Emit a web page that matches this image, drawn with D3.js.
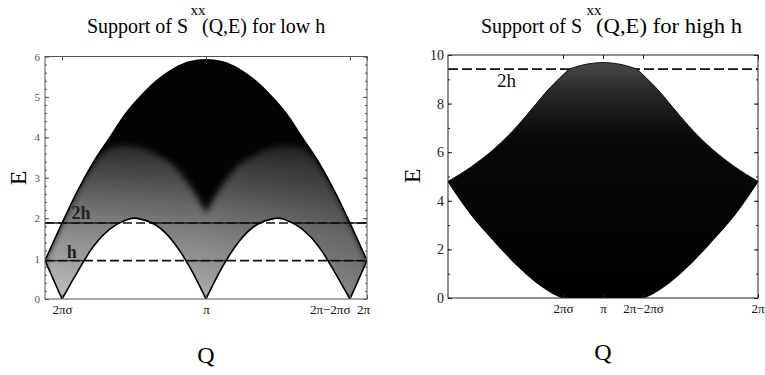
<!DOCTYPE html>
<html>
<head>
<meta charset="utf-8">
<script src="https://d3js.org/d3.v7.min.js"></script>
<style>
  body { margin: 0; background: #fff; }
  svg { display: block; font-family: "Liberation Serif", "DejaVu Serif", serif; }
</style>
</head>
<body>
<div id="chart"></div>
<script>
// Q is given in units of pi, E in the plot's energy units

// low h panel
const lowUpperQ = [0, 0.106, 0.2, 0.3, 0.4, 0.5, 0.6, 0.7, 0.8, 0.9, 1.0, 1.1, 1.2, 1.3, 1.4, 1.5, 1.6, 1.7, 1.8, 1.894, 2.0];
const lowUpperE = [0.95, 1.88, 2.66, 3.38, 3.98, 4.58, 5.04, 5.42, 5.7, 5.87, 5.92, 5.87, 5.7, 5.42, 5.04, 4.58, 3.98, 3.38, 2.66, 1.88, 0.95];

const lowMidQa = [0, 0.106, 0.2, 0.3, 0.35, 0.4, 0.5, 0.6, 0.7, 0.8, 0.9, 1.0];
const lowMidEa = [0.95, 1.88, 2.64, 3.34, 3.58, 3.74, 3.8, 3.74, 3.55, 3.3, 2.8, 2.12];
const lowMidQb = [1.0, 1.1, 1.2, 1.3, 1.4, 1.5, 1.6, 1.65, 1.7, 1.8, 1.894, 2.0];
const lowMidEb = [2.12, 2.8, 3.3, 3.55, 3.74, 3.8, 3.74, 3.58, 3.34, 2.64, 1.88, 0.95];

const lowLowerQ1 = [0, 0.106];
const lowLowerE1 = [0.95, 0];
const lowLowerQ2 = [0.106, 0.2, 0.3, 0.4, 0.5, 0.553, 0.6, 0.7, 0.8, 0.9, 1.0];
const lowLowerE2 = [0, 0.66, 1.3, 1.72, 1.95, 2.0, 1.97, 1.8, 1.4, 0.78, 0];
const lowLowerQ3 = [1.0, 1.1, 1.2, 1.3, 1.4, 1.447, 1.5, 1.6, 1.7, 1.8, 1.894];
const lowLowerE3 = [0, 0.78, 1.4, 1.8, 1.97, 2.0, 1.95, 1.72, 1.3, 0.66, 0];
const lowLowerQ4 = [1.894, 2.0];
const lowLowerE4 = [0, 0.95];

const lowLevels = [0.95, 1.88];
const lowLevelLabels = ["h", "2h"];
const lowYTicks = [0, 1, 2, 3, 4, 5, 6];
const lowXTicks = [0.106, 1, 1.894, 2];
const lowXLabels = ["2πσ", "π", "2π−2πσ", "2π"];

// high h panel
const highUpperQ1 = [0, 0.15, 0.3, 0.45, 0.55, 0.65, 0.72, 0.78];
const highUpperE1 = [4.8, 5.4, 6.15, 7.1, 7.85, 8.6, 9.05, 9.42];
const highUpperQ2 = [0.78, 0.9, 1.0, 1.1, 1.22];
const highUpperE2 = [9.42, 9.63, 9.69, 9.63, 9.42];
const highUpperQ3 = [1.22, 1.28, 1.35, 1.45, 1.55, 1.7, 1.85, 2.0];
const highUpperE3 = [9.42, 9.05, 8.6, 7.85, 7.1, 6.15, 5.4, 4.8];

const highLowerQ1 = [0, 0.15, 0.3, 0.45, 0.6, 0.68, 0.742];
const highLowerE1 = [4.8, 3.43, 2.33, 1.32, 0.5, 0.18, 0];
const highLowerQ2 = [1.258, 1.32, 1.4, 1.55, 1.7, 1.85, 2.0];
const highLowerE2 = [0, 0.18, 0.5, 1.32, 2.33, 3.43, 4.8];

const highLevels = [9.42];
const highLevelLabels = ["2h"];
const highYTicks = [0, 2, 4, 6, 8, 10];
const highXTicks = [0.742, 1, 1.258, 2];
const highXLabels = ["2πσ", "π", "2π−2πσ", "2π"];

const zip = (qs, es) => qs.map((q, i) => ({ q: q, e: es[i] }));
const serif = '"Liberation Serif", "DejaVu Serif", serif';

const width = 765;
const height = 375;

const svg = d3.select("#chart")
  .append("svg")
  .attr("width", width)
  .attr("height", height);
const defs = svg.append("defs");

function addTitle(endS, supX, startRest, rest, restLen) {
  svg.append("text")
    .attr("x", endS).attr("y", 33)
    .attr("text-anchor", "end")
    .attr("font-size", "20px")
    .text("Support of S");
  svg.append("text")
    .attr("x", supX).attr("y", 15)
    .attr("text-anchor", "middle")
    .attr("font-size", "15px")
    .text("xx");
  const t = svg.append("text")
    .attr("x", startRest).attr("y", 33)
    .attr("text-anchor", "start")
    .attr("font-size", "20px")
    .text(rest);
  if (restLen) t.attr("textLength", restLen).attr("lengthAdjust", "spacingAndGlyphs");
}

function addAxes(g, x, y, opts) {
  const [x0, x1] = x.range();
  const [y0, y1] = y.range();

  // minor ticks
  g.append("g")
    .attr("transform", `translate(${x0},0)`)
    .call(d3.axisLeft(y).tickValues(opts.minor).tickSizeInner(-2).tickSizeOuter(0).tickFormat(""))
    .call(a => a.select(".domain").remove());
  g.append("g")
    .attr("transform", `translate(${x1},0)`)
    .call(d3.axisRight(y).tickValues(opts.minor).tickSizeInner(-2).tickSizeOuter(0).tickFormat(""))
    .call(a => a.select(".domain").remove());

  const yAxis = g.append("g")
    .attr("transform", `translate(${x0},0)`)
    .call(d3.axisLeft(y).tickValues(opts.yTicks).tickSizeInner(-4).tickSizeOuter(0)
      .tickPadding(opts.yPad).tickFormat(d3.format("d")));
  yAxis.attr("font-family", serif).attr("font-size", opts.yFont);
  yAxis.select(".domain").remove();
  yAxis.selectAll("text").attr("fill", opts.yColor);

  g.append("g")
    .attr("transform", `translate(${x1},0)`)
    .call(d3.axisRight(y).tickValues(opts.yTicks).tickSizeInner(-4).tickSizeOuter(0).tickFormat(""))
    .call(a => a.select(".domain").remove());

  const xAxis = g.append("g")
    .attr("transform", `translate(0,${y0})`)
    .call(d3.axisBottom(x).tickValues(opts.xTicks).tickSizeInner(-4).tickSizeOuter(0).tickPadding(6)
      .tickFormat((d, i) => opts.xLabels[i]));
  xAxis.attr("font-family", serif).attr("font-size", "13px");
  xAxis.select(".domain").remove();
  xAxis.selectAll("text")
    .attr("fill", "#111")
    .attr("text-anchor", (d, i) => opts.xAnchor[i])
    .attr("dx", (d, i) => opts.xDx[i]);

  g.append("g")
    .attr("transform", `translate(0,${y1})`)
    .call(d3.axisTop(x).tickValues(opts.xTicks).tickSizeInner(-4).tickSizeOuter(0).tickFormat(""))
    .call(a => a.select(".domain").remove());

  g.selectAll(".tick line").attr("stroke", opts.frame);

  g.append("rect")
    .attr("x", x0).attr("y", y1)
    .attr("width", x1 - x0).attr("height", y0 - y1)
    .attr("fill", "none")
    .attr("stroke", opts.frame)
    .attr("stroke-width", 1);
}

function drawLow() {
  const x = d3.scaleLinear().domain([0, 2]).range([45, 367]);
  const y = d3.scaleLinear().domain([0, 6]).range([299, 56.5]);
  const g = svg.append("g");

  defs.append("clipPath").attr("id", "clipLow")
    .append("rect")
    .attr("x", 45).attr("y", 56.5).attr("width", 322).attr("height", 242.5);

  const under = d3.area()
    .x(d => x(d.q)).y0(y(0)).y1(d => y(d.e))
    .curve(d3.curveMonotoneX);
  const line = d3.line()
    .x(d => x(d.q)).y(d => y(d.e))
    .curve(d3.curveMonotoneX);

  const upper = zip(lowUpperQ, lowUpperE);
  defs.append("clipPath").attr("id", "clipUpperLow")
    .append("path").attr("d", under(upper));

  const grad = defs.append("linearGradient").attr("id", "grayLow")
    .attr("gradientUnits", "userSpaceOnUse")
    .attr("x1", 0).attr("x2", 0).attr("y1", y(0)).attr("y2", y(3.8));
  grad.append("stop").attr("offset", 0).attr("stop-color", "#c2c2c2");
  grad.append("stop").attr("offset", 0.45).attr("stop-color", "#8a8a8a");
  grad.append("stop").attr("offset", 0.8).attr("stop-color", "#505050");
  grad.append("stop").attr("offset", 1).attr("stop-color", "#2a2a2a");

  const shade = defs.append("linearGradient").attr("id", "shadeLow")
    .attr("gradientUnits", "userSpaceOnUse")
    .attr("x1", x(0)).attr("x2", x(2)).attr("y1", 0).attr("y2", 0);
  shade.append("stop").attr("offset", 0).attr("stop-color", "#000").attr("stop-opacity", 0);
  shade.append("stop").attr("offset", 0.5).attr("stop-color", "#000").attr("stop-opacity", 0.1);
  shade.append("stop").attr("offset", 1).attr("stop-color", "#000").attr("stop-opacity", 0.32);

  const blur = defs.append("filter").attr("id", "soft")
    .attr("x", "-10%").attr("y", "-10%").attr("width", "120%").attr("height", "120%");
  blur.append("feGaussianBlur").attr("stdDeviation", 3);

  const plot = g.append("g").attr("clip-path", "url(#clipLow)");

  plot.append("path").attr("d", under(upper)).attr("fill", "#030303");

  const mids = [zip(lowMidQa, lowMidEa), zip(lowMidQb, lowMidEb)];
  const grayG = plot.append("g").attr("clip-path", "url(#clipUpperLow)")
    .append("g").attr("filter", "url(#soft)");
  grayG.selectAll("path.gray").data(mids).join("path")
    .attr("class", "gray").attr("d", under).attr("fill", "url(#grayLow)");
  grayG.selectAll("path.shade").data(mids).join("path")
    .attr("class", "shade").attr("d", under).attr("fill", "url(#shadeLow)");

  // lines read solid where they pass through the shading
  plot.selectAll("line.solid").data(lowLevels).join("line")
    .attr("class", "solid")
    .attr("x1", x(0)).attr("x2", x(2))
    .attr("y1", d => y(d)).attr("y2", d => y(d))
    .attr("stroke", "#1a1a1a").attr("stroke-width", 1.4);

  const lowers = [
    zip(lowLowerQ1, lowLowerE1), zip(lowLowerQ2, lowLowerE2),
    zip(lowLowerQ3, lowLowerE3), zip(lowLowerQ4, lowLowerE4)
  ];
  plot.selectAll("path.hole").data(lowers).join("path")
    .attr("class", "hole").attr("d", under).attr("fill", "#fff");

  plot.selectAll("line.dash").data(lowLevels).join("line")
    .attr("class", "dash")
    .attr("x1", x(0)).attr("x2", x(2))
    .attr("y1", d => y(d)).attr("y2", d => y(d))
    .attr("stroke", "#111").attr("stroke-width", 1.6)
    .attr("stroke-dasharray", "9,4");

  plot.append("path").attr("d", line(upper))
    .attr("fill", "none").attr("stroke", "#000").attr("stroke-width", 1.6);
  plot.selectAll("path.lower").data(lowers).join("path")
    .attr("class", "lower").attr("d", line)
    .attr("fill", "none").attr("stroke", "#000").attr("stroke-width", 1.6);

  g.selectAll("text.level").data(lowLevels).join("text")
    .attr("class", "level")
    .attr("x", (d, i) => i === 1 ? x(0.165) : x(0.135))
    .attr("y", (d, i) => y(d) - (i === 1 ? 4 : 3))
    .attr("font-size", "18px")
    .attr("font-weight", "bold")
    .attr("fill", "#222")
    .text((d, i) => lowLevelLabels[i]);

  addAxes(g, x, y, {
    yTicks: lowYTicks,
    minor: d3.range(0, 6.001, 0.2),
    yPad: 5, yFont: "11px", yColor: "#555",
    xTicks: lowXTicks, xLabels: lowXLabels,
    xAnchor: ["middle", "middle", "end", "middle"],
    xDx: [0, 0, 0, -4],
    frame: "#555"
  });

  g.append("text")
    .attr("transform", "translate(26,178) rotate(-90)")
    .attr("text-anchor", "middle")
    .attr("font-size", "24px")
    .text("E");
  g.append("text")
    .attr("x", x(1)).attr("y", 363)
    .attr("text-anchor", "middle")
    .attr("font-size", "24px")
    .text("Q");
}

function drawHigh() {
  const x = d3.scaleLinear().domain([0, 2]).range([448, 758]);
  const y = d3.scaleLinear().domain([0, 10]).range([298, 55]);
  const g = svg.append("g");

  defs.append("clipPath").attr("id", "clipHigh")
    .append("rect")
    .attr("x", 448).attr("y", 55).attr("width", 310).attr("height", 243);

  const under = d3.area()
    .x(d => x(d.q)).y0(y(0)).y1(d => y(d.e))
    .curve(d3.curveMonotoneX);
  const line = d3.line()
    .x(d => x(d.q)).y(d => y(d.e))
    .curve(d3.curveMonotoneX);

  const grad = defs.append("linearGradient").attr("id", "darkHigh")
    .attr("gradientUnits", "userSpaceOnUse")
    .attr("x1", 0).attr("x2", 0).attr("y1", y(9.7)).attr("y2", y(0));
  grad.append("stop").attr("offset", 0).attr("stop-color", "#4a4a4a");
  grad.append("stop").attr("offset", 0.12).attr("stop-color", "#2a2a2a");
  grad.append("stop").attr("offset", 0.32).attr("stop-color", "#080808");
  grad.append("stop").attr("offset", 1).attr("stop-color", "#000");

  const plot = g.append("g").attr("clip-path", "url(#clipHigh)");

  plot.selectAll("line.dash").data(highLevels).join("line")
    .attr("class", "dash")
    .attr("x1", x(0)).attr("x2", x(2))
    .attr("y1", d => y(d)).attr("y2", d => y(d))
    .attr("stroke", "#111").attr("stroke-width", 1.6)
    .attr("stroke-dasharray", "10,4");

  const uppers = [zip(highUpperQ1, highUpperE1), zip(highUpperQ2, highUpperE2), zip(highUpperQ3, highUpperE3)];
  // one closed outline so the segments leave no seams
  const outline = uppers.map((s, i) => i === 0 ? line(s) : line(s).replace(/^M/, "L")).join("")
    + `L${x(2)},${y(0)}L${x(0)},${y(0)}Z`;
  plot.append("path").attr("d", outline).attr("fill", "url(#darkHigh)");

  const lowers = [zip(highLowerQ1, highLowerE1), zip(highLowerQ2, highLowerE2)];
  plot.selectAll("path.hole").data(lowers).join("path")
    .attr("class", "hole").attr("d", under).attr("fill", "#fff");

  plot.selectAll("path.upper").data(uppers).join("path")
    .attr("class", "upper").attr("d", line)
    .attr("fill", "none").attr("stroke", "#111").attr("stroke-width", 1);
  plot.selectAll("path.lower").data(lowers).join("path")
    .attr("class", "lower").attr("d", line)
    .attr("fill", "none").attr("stroke", "#000").attr("stroke-width", 1.2);

  g.selectAll("text.level").data(highLevels).join("text")
    .attr("class", "level")
    .attr("x", x(0.316))
    .attr("y", d => y(d) + 18)
    .attr("font-size", "19px")
    .attr("fill", "#111")
    .text((d, i) => highLevelLabels[i]);

  addAxes(g, x, y, {
    yTicks: highYTicks,
    minor: d3.range(0, 10.001, 1),
    yPad: 4, yFont: "14px", yColor: "#222",
    xTicks: highXTicks, xLabels: highXLabels,
    xAnchor: ["middle", "middle", "middle", "end"],
    xDx: [0, 0, 0, 6],
    frame: "#222"
  });

  g.append("text")
    .attr("transform", "translate(420,176) rotate(-90)")
    .attr("text-anchor", "middle")
    .attr("font-size", "24px")
    .text("E");
  g.append("text")
    .attr("x", x(1)).attr("y", 360)
    .attr("text-anchor", "middle")
    .attr("font-size", "24px")
    .text("Q");
}

addTitle(188, 198, 202, "(Q,E) for low h", null);
addTitle(582, 594, 596, "(Q,E) for high h", 146);
drawLow();
drawHigh();
</script>
</body>
</html>
